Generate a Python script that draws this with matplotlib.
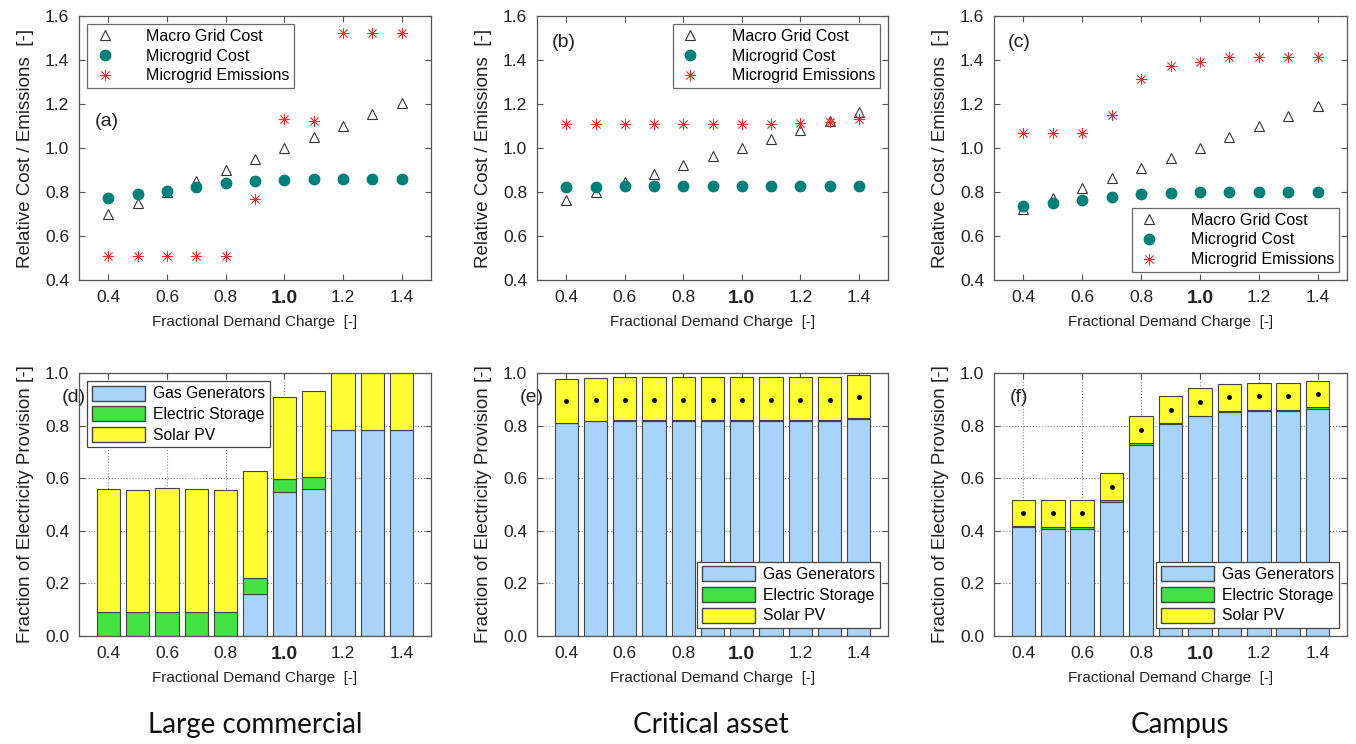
import matplotlib
matplotlib.use("Agg")
import matplotlib.pyplot as plt
from matplotlib.patches import Patch

plt.rcParams["font.family"] = ["Liberation Sans", "DejaVu Sans"]

demand = [0.4, 0.5, 0.6, 0.7, 0.8, 0.9, 1.0, 1.1, 1.2, 1.3, 1.4]
xticks = [0.4, 0.6, 0.8, 1.0, 1.2, 1.4]
xticklabels = ["0.4", "0.6", "0.8", "1.0", "1.2", "1.4"]

# top row: relative cost / emissions
macro_a = [0.70, 0.75, 0.80, 0.85, 0.90, 0.95, 1.00, 1.05, 1.10, 1.155, 1.205]
mgcost_a = [0.773, 0.790, 0.806, 0.822, 0.840, 0.852, 0.855, 0.858, 0.858, 0.858, 0.858]
emis_a = [0.507, 0.51, 0.507, 0.51, 0.51, 0.767, 1.133, 1.122, 1.521, 1.521, 1.521]

macro_b = [0.763, 0.801, 0.847, 0.883, 0.923, 0.963, 1.002, 1.043, 1.083, 1.125, 1.165]
mgcost_b = [0.824, 0.824, 0.828, 0.828, 0.828, 0.828, 0.828, 0.828, 0.828, 0.828, 0.828]
emis_b = [1.110, 1.110, 1.110, 1.110, 1.110, 1.110, 1.110, 1.110, 1.114, 1.117, 1.132]

macro_c = [0.721, 0.771, 0.816, 0.862, 0.908, 0.955, 1.002, 1.051, 1.098, 1.144, 1.189]
mgcost_c = [0.736, 0.751, 0.762, 0.778, 0.791, 0.795, 0.798, 0.801, 0.801, 0.801, 0.801]
emis_c = [1.068, 1.068, 1.068, 1.148, 1.314, 1.375, 1.392, 1.413, 1.413, 1.413, 1.413]

# bottom row: fraction of electricity provision (stacked segments)
gas_d = [0.0, 0.0, 0.0, 0.0, 0.0, 0.160, 0.549, 0.558, 0.783, 0.783, 0.785]
stor_d = [0.090, 0.093, 0.090, 0.093, 0.093, 0.062, 0.048, 0.048, 0.0, 0.0, 0.0]
solar_d = [0.469, 0.461, 0.472, 0.466, 0.464, 0.407, 0.311, 0.327, 0.217, 0.217, 0.215]

gas_e = [0.809, 0.817, 0.819, 0.819, 0.819, 0.819, 0.819, 0.819, 0.819, 0.819, 0.826]
stor_e = [0.001, 0.001, 0.001, 0.001, 0.001, 0.001, 0.001, 0.001, 0.001, 0.001, 0.002]
solar_e = [0.167, 0.163, 0.164, 0.164, 0.164, 0.164, 0.164, 0.164, 0.164, 0.164, 0.166]
dots_e = [0.894, 0.899, 0.899, 0.899, 0.899, 0.899, 0.899, 0.899, 0.899, 0.899, 0.910]

gas_f = [0.413, 0.408, 0.408, 0.509, 0.728, 0.807, 0.836, 0.853, 0.856, 0.856, 0.862]
stor_f = [0.004, 0.005, 0.007, 0.009, 0.007, 0.004, 0.002, 0.003, 0.004, 0.004, 0.007]
solar_f = [0.101, 0.105, 0.103, 0.101, 0.103, 0.101, 0.104, 0.102, 0.101, 0.101, 0.101]
dots_f = [0.466, 0.466, 0.468, 0.567, 0.784, 0.860, 0.890, 0.910, 0.913, 0.913, 0.920]

titles = ["Large commercial", "Critical asset", "Campus"]

teal = "#00807a"
red = "#ff2a2a"
c_gas = "#a8d4fb"
c_stor = "#44e044"
c_solar = "#ffff33"
edge = "#444444"

W, H = 1356, 744
fig = plt.figure(figsize=(W / 100, H / 100), dpi=100)


def px_axes(x0, y0, x1, y1):
    return fig.add_axes([x0 / W, 1 - y1 / H, (x1 - x0) / W, (y1 - y0) / H])


cols = [(79, 431), (537, 888), (994, 1347)]


def style_axes(ax):
    for s in ax.spines.values():
        s.set_color("#555555")
        s.set_linewidth(0.9)
    ax.tick_params(direction="in", length=4, top=True, right=True,
                   colors="#555555", labelcolor="#222222", labelsize=12.5, pad=7)
    ax.set_xlim(0.3, 1.5)
    ax.set_xticks(xticks)
    ax.set_xticklabels(xticklabels)
    for lab in ax.get_xticklabels():
        if lab.get_text() == "1.0":
            lab.set_fontweight("bold")
            lab.set_fontsize(14)
    ax.set_xlabel("Fractional Demand Charge  [-]", fontsize=11, color="#222222", labelpad=6)


# ---- top row
top_data = [(macro_a, mgcost_a, emis_a), (macro_b, mgcost_b, emis_b), (macro_c, mgcost_c, emis_c)]
letters_top = ["(a)", "(b)", "(c)"]
letter_pos_top = [(0.045, 0.60), (0.043, 0.90), (0.04, 0.90)]
legend_locs = ["upper left", "upper right", "lower right"]

for i, (macro, mg, em) in enumerate(top_data):
    ax = px_axes(cols[i][0], 16, cols[i][1], 280)
    ax.plot(demand, macro, linestyle="none", marker="^", ms=7.5, mfc="none",
            mec="#333333", mew=0.8, label="Macro Grid Cost")
    ax.plot(demand, mg, linestyle="none", marker="o", ms=7.5, mfc=teal,
            mec=teal, label="Microgrid Cost")
    ax.plot(demand, em, linestyle="none", marker=(8, 2, 0), ms=8, mec=red,
            mew=0.55, label="Microgrid Emissions")
    ax.set_ylim(0.4, 1.6)
    ax.set_yticks([0.4, 0.6, 0.8, 1.0, 1.2, 1.4, 1.6])
    style_axes(ax)
    ax.set_ylabel("Relative Cost / Emissions  [-]", fontsize=13.5, color="#222222", labelpad=8)
    ax.text(*letter_pos_top[i], letters_top[i], transform=ax.transAxes,
            fontsize=14, va="center", ha="left", color="#222222")
    leg = ax.legend(loc=legend_locs[i], fontsize=11.5, frameon=True, fancybox=False,
                    edgecolor="#444444", handletextpad=1.8, borderaxespad=0.5,
                    labelspacing=0.3, handlelength=1.6, borderpad=0.3)
    leg.get_frame().set_linewidth(0.9)

# ---- bottom row
bot_data = [(gas_d, stor_d, solar_d, None), (gas_e, stor_e, solar_e, dots_e),
            (gas_f, stor_f, solar_f, dots_f)]
letters_bot = ["(d)", "(e)", "(f)"]
letter_pos_bot = [(-0.05, 0.905), (-0.048, 0.905), (0.045, 0.905)]
legend_locs_bot = ["upper left", "lower right", "lower right"]

for i, (gas, stor, solar, dots) in enumerate(bot_data):
    ax = px_axes(cols[i][0], 373, cols[i][1], 636)
    ax.set_axisbelow(True)
    ax.grid(True, linestyle=":", color="#888888", linewidth=0.8)
    bottom2 = [g + s for g, s in zip(gas, stor)]
    ax.bar(demand, gas, width=0.08, color=c_gas, edgecolor=edge, linewidth=0.8)
    ax.bar(demand, stor, width=0.08, bottom=gas, color=c_stor, edgecolor=edge, linewidth=0.8)
    ax.bar(demand, solar, width=0.08, bottom=bottom2, color=c_solar, edgecolor=edge, linewidth=0.8)
    if dots is not None:
        ax.plot(demand, dots, linestyle="none", marker="o", ms=2.5, color="black")
    ax.set_ylim(0, 1.0)
    ax.set_yticks([0.0, 0.2, 0.4, 0.6, 0.8, 1.0])
    style_axes(ax)
    ax.set_ylabel("Fraction of Electricity Provision [-]", fontsize=13.5, color="#222222", labelpad=8)
    ax.text(*letter_pos_bot[i], letters_bot[i], transform=ax.transAxes,
            fontsize=14, va="center", ha="left", color="#222222", zorder=1)
    handles = [Patch(facecolor=c_gas, edgecolor=edge, label="Gas Generators"),
               Patch(facecolor=c_stor, edgecolor=edge, label="Electric Storage"),
               Patch(facecolor=c_solar, edgecolor=edge, label="Solar PV")]
    leg = ax.legend(handles=handles, loc=legend_locs_bot[i], fontsize=11.3, frameon=True,
                    fancybox=False, edgecolor="#444444", framealpha=1,
                    handlelength=3.4, handleheight=1.1, handletextpad=0.5,
                    labelspacing=0.3, borderaxespad=0.5, borderpad=0.3)
    leg.get_frame().set_linewidth(0.9)
    leg.set_zorder(5)

title_x = [255, 711, 1180]
for tx, t in zip(title_x, titles):
    fig.text(tx / W, 1 - 725 / H, t, ha="center", va="center", fontsize=20,
             family=["Lato", "DejaVu Sans"], color="#111111")

fig.savefig("out.png", dpi=100)
